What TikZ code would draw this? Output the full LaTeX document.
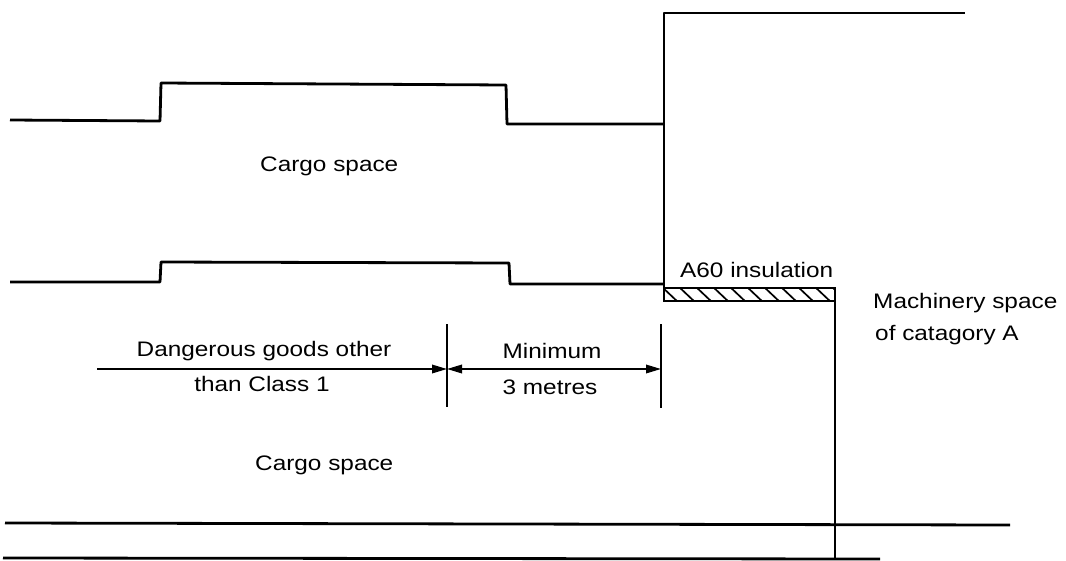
\documentclass[tikz,border=0pt]{standalone}
\usepackage{fontspec}
\setmainfont{Liberation Sans}[FakeStretch=1.16]
\usetikzlibrary{arrows.meta}
\begin{document}
\begin{tikzpicture}[x=1pt,y=-1pt,
  wall/.style={line width=2.8pt, line join=round},
  dimline/.style={line width=1.8pt},
  tick/.style={line width=1.6pt},
  lbl/.style={font=\fontsize{21}{24}\selectfont, inner sep=0pt, anchor=base},
  tip/.tip={Triangle[length=15pt,width=8.5pt]}]
\useasboundingbox (0,0) rectangle (1066,560);
% upper deck
\draw[wall] (10,120) -- (160,121) -- (161,83) -- (506,85) -- (507,124) -- (664,124);
% bulkhead
\draw[wall] (664,288) -- (664,13) -- (965,13);
% second deck
\draw[wall] (10,282) -- (160,282) -- (161,262) -- (509,263) -- (510,284) -- (664,284);
% insulation
\begin{scope}
\clip (664,288) rectangle (835,301);
\foreach \i in {0,...,10} {\draw[line width=1.7pt] ({664+\i*17-3},286) -- ({664+\i*17+15},303);}
\end{scope}
\draw[line width=2.2pt] (664,288) rectangle (835,301);
% machinery bulkhead
\draw[wall] (835,288) -- (835,560);
% bottom lines
\draw[wall] (5,523) -- (1010,525);
\draw[wall] (3,558) -- (880,559);
% dimension ticks
\coordinate (t1a) at (447,324); \coordinate (t1b) at (447,407);
\coordinate (t2a) at (661,324); \coordinate (t2b) at (661,408);
\draw[tick] (t1a) -- (t1b);
\draw[tick] (t2a) -- (t2b);
\coordinate (a0) at (97,369);
\coordinate (a1) at (447,369);
\coordinate (a2) at (661,369);
\draw[dimline,-tip] (a0) -- (a1);
\draw[dimline,tip-tip] (a1) -- (a2);
% labels
\node[lbl,anchor=base west] (cs1) at (260,171) {Cargo space};
\node[lbl,anchor=base west] (cs2) at (255,470) {Cargo space};
\node[lbl] (dg1) at (264,356) {Dangerous goods other};
\node[lbl] (dg2) at (262,391) {than Class 1};
\node[lbl] (mn1) at (552,358) {Minimum};
\node[lbl] (mn2) at (550,394) {3 metres};
\node[lbl,anchor=base west] (ins) at (680,277) {A60 insulation};
\node[lbl,anchor=base west] (ms1) at (873,308) {Machinery space};
\node[lbl,anchor=base west] (ms2) at (875,340) {of catagory A};
\end{tikzpicture}
\end{document}
